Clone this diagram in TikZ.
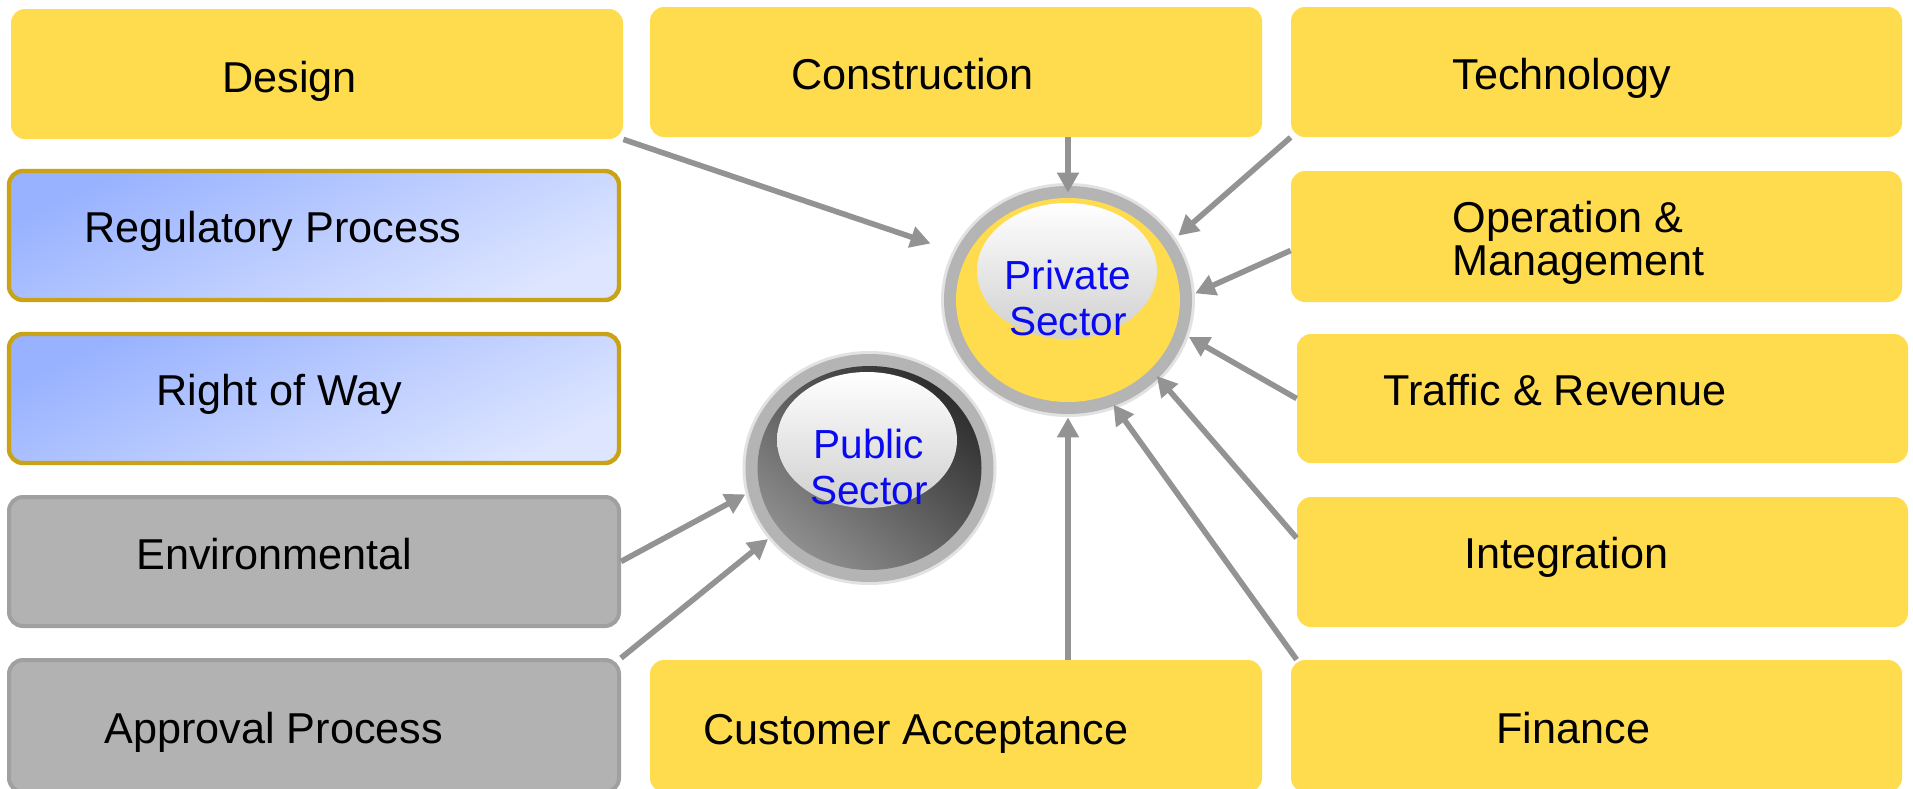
\documentclass[tikz,border=0pt]{standalone}
\usepackage{fontspec}
\setmainfont{Liberation Sans}
\usetikzlibrary{arrows.meta,shapes.geometric,fit}

\definecolor{boxyellow}{HTML}{FFDC4E}
\definecolor{regtop}{HTML}{98B2FF}
\definecolor{regbot}{HTML}{DDE5FF}
\definecolor{goldline}{HTML}{C9A315}
\definecolor{graybox}{HTML}{B2B2B2}
\definecolor{grayline}{HTML}{A0A0A0}
\definecolor{arrowgray}{HTML}{939393}
\definecolor{rimgray}{HTML}{E2E2E2}
\definecolor{ringgray}{HTML}{B4B4B4}
\definecolor{glowgray}{HTML}{CFCFCF}
\definecolor{darktop}{HTML}{2E2E2E}
\definecolor{darkbot}{HTML}{8E8E8E}
\definecolor{sectorblue}{HTML}{0A0AF0}

\tikzset{
  panel/.style={rectangle, rounded corners=7pt, inner sep=0pt},
  yellowbox/.style={panel, fill=boxyellow},
  bluebox/.style={panel, top color=regtop, bottom color=regbot, shading angle=25,
                  draw=goldline, line width=2.2pt},
  greybox/.style={panel, fill=graybox, draw=grayline, line width=2pt},
  boxtext/.style={font=\fontsize{21.6pt}{21.5pt}\selectfont, inner sep=0pt,
                  anchor=base west, text=black},
  rim/.style={ellipse, inner sep=0pt, fill=rimgray, minimum width=127pt, minimum height=117pt},
  ring/.style={ellipse, inner sep=0pt, fill=ringgray, minimum width=124pt, minimum height=114pt},
  core/.style={ellipse, inner sep=0pt, minimum width=112pt, minimum height=102pt},
  glow/.style={ellipse, inner sep=0pt, top color=white, bottom color=glowgray,
               minimum width=90pt, minimum height=68pt},
  sectortext/.style={font=\fontsize{20.3pt}{23pt}\selectfont, inner sep=0pt,
                     anchor=base, align=center, text=sectorblue},
  feed/.style={draw=arrowgray, line width=2.8pt, -{Triangle[length=10pt,width=10.5pt]}}
}

\begin{document}
\begin{tikzpicture}[x=0.5pt,y=-0.5pt]
  \useasboundingbox (0,0) rectangle (1913,788);
  \fill[white] (0,0) rectangle (1913,788);

  % top row
  \node[yellowbox, fit={(11,9) (623,139)}] (design) {};
  \node[yellowbox, fit={(650,7) (1262,137)}] (constr) {};
  \node[yellowbox, fit={(1291,7) (1902,137)}] (tech) {};

  % left column
  \node[bluebox, fit={(9,171) (619,300)}] (reg) {};
  \node[bluebox, fit={(9,334) (619,463)}] (row) {};
  \node[greybox, fit={(9,497) (619,626)}] (env) {};
  \node[greybox, fit={(9,660) (619,792)}] (appr) {};

  % bottom middle
  \node[yellowbox, fit={(650,660) (1262,792)}] (cust) {};

  % right column
  \node[yellowbox, fit={(1291,171) (1902,302)}] (oper) {};
  \node[yellowbox, fit={(1297,334) (1908,463)}] (traffic) {};
  \node[yellowbox, fit={(1297,497) (1908,627)}] (integ) {};
  \node[yellowbox, fit={(1291,660) (1902,792)}] (fin) {};

  % box labels (multi-line labels sit on the baseline of their last line)
  \node[boxtext] (designtxt) at (222,92) {Design};
  \node[boxtext] (constrtxt) at (791,89) {Construction};
  \node[boxtext] (techtxt) at (1452,89) {Technology};
  \node[boxtext] (regtxt) at (84,242) {Regulatory Process};
  \node[boxtext] (rowtxt) at (156,405) {Right of Way};
  \node[boxtext] (envtxt) at (136,569) {Environmental};
  \node[boxtext] (apprtxt) at (104,743) {Approval Process};
  \node[boxtext] (custtxt) at (703,744) {Customer Acceptance};
  \node[boxtext, align=left] (opertxt) at (1452,275) {Operation \&\\Management};
  \node[boxtext] (traffictxt) at (1383,405) {Traffic \& Revenue};
  \node[boxtext] (integtxt) at (1464,568) {Integration};
  \node[boxtext] (fintxt) at (1496,743) {Finance};

  % private sector disc
  \node[rim] (priv) at (1068,300) {};
  \node[ring] (privring) at (priv.center) {};
  \node[core, fill=boxyellow] (privcore) at (priv.center) {};
  \node[glow] (privglow) at (1067,271) {};
  \node[sectortext] (privtxt) at (1068,335) {Private\\Sector};

  % public sector disc
  \node[rim] (pub) at (869.5,468) {};
  \node[ring] (pubring) at (pub.center) {};
  \node[core, top color=darktop, bottom color=darkbot, shading angle=-40] (pubcore) at (pub.center) {};
  \node[glow] (pubglow) at (867,440) {};
  \node[sectortext] (pubtxt) at (869,504) {Public\\Sector};

  % connectors into the private sector
  \draw[feed, shorten >=11.5pt] (design.south east) -- (priv.157);
  \draw[feed, shorten >=-5pt] (constr.south -| priv) -- (priv.north);
  \draw[feed, shorten >=1.5pt] (tech.south west) -- (priv.30);
  \draw[feed] ([yshift=-7pt]oper.west) -- (priv.3.6);
  \draw[feed] (traffic.west) -- (priv.-17);
  \draw[feed, shorten >=-3pt] ([yshift=12pt]integ.west) -- (priv.-41.5);
  \draw[feed, shorten >=-2.5pt] ([xshift=3pt]fin.north west) -- (priv.-66);
  \draw[feed] (cust.north -| priv) -- (priv.south);

  % connectors into the public sector
  \draw[feed] (env.east) -- (pub.192);
  \draw[feed] (appr.north east) -- (pub.215.6);
\end{tikzpicture}
\end{document}
